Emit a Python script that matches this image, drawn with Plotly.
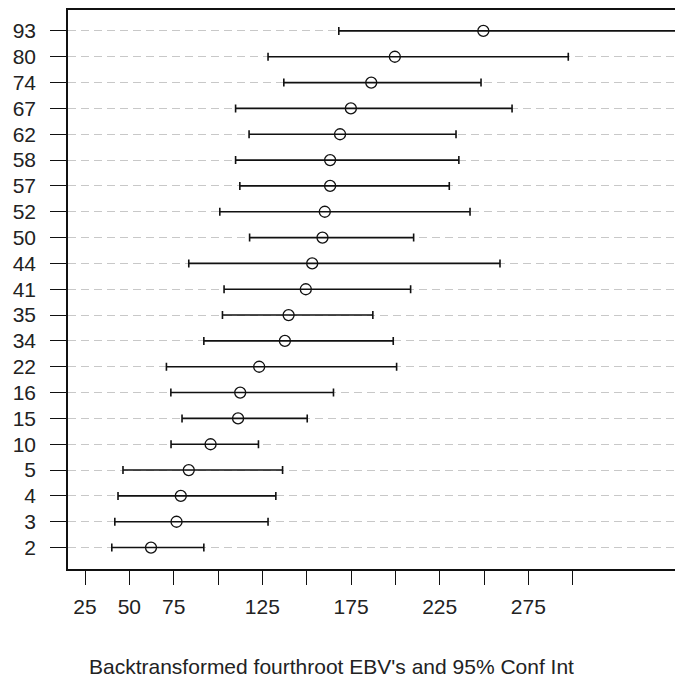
import plotly.graph_objects as go

labels = ["2", "3", "4", "5", "10", "15", "16", "22", "34", "35", "41",
          "44", "50", "52", "57", "58", "62", "67", "74", "80", "93"]
estimate = [62.2, 76.6, 79.0, 83.5, 95.8, 111.3, 112.5, 123.2, 137.7, 139.8, 149.5,
            153.1, 158.9, 160.2, 163.2, 163.2, 168.8, 174.9, 186.4, 199.7, 249.6]
lower = [40.1, 41.8, 43.6, 46.4, 73.5, 79.7, 73.4, 70.9, 92.0, 102.5, 103.4,
         83.5, 117.8, 101.0, 112.3, 109.9, 117.5, 109.9, 137.1, 128.2, 168.1]
upper = [92.0, 128.2, 132.6, 136.4, 122.8, 150.3, 165.1, 200.7, 198.8, 187.3, 208.6,
         259.0, 210.3, 242.1, 230.4, 235.8, 234.2, 265.8, 248.3, 297.5, 358.3]

x_tickvals = [25, 50, 75, 100, 125, 150, 175, 200, 225, 250, 275, 300]
x_ticktext = ["25", "50", "75", "", "125", "", "175", "", "225", "", "275", ""]
x_title = "Backtransformed fourthroot EBV's and 95% Conf Int"

ypos = list(range(1, len(labels) + 1))
plus = [u - e for u, e in zip(upper, estimate)]
minus = [e - l for e, l in zip(estimate, lower)]

fig = go.Figure()
fig.add_trace(go.Scatter(
    x=estimate, y=ypos, mode="markers",
    marker=dict(symbol="circle-open", size=11, color="#111111",
                line=dict(width=1.3, color="#111111")),
    error_x=dict(type="data", array=plus, arrayminus=minus, symmetric=False,
                 color="#111111", thickness=1.6, width=4),
    showlegend=False, hoverinfo="skip",
))

font = dict(family="Liberation Sans, Arial, sans-serif", size=21, color="#222222")

fig.update_layout(
    width=683, height=684,
    margin=dict(l=60, r=0, t=0, b=123),
    paper_bgcolor="white", plot_bgcolor="white",
    font=font,
    xaxis=dict(range=[15.4, 366.7], tickvals=x_tickvals, ticktext=x_ticktext,
               showgrid=False, zeroline=False, showline=True, mirror=True,
               linecolor="#111111", linewidth=1.5,
               ticks="outside", ticklen=14, tickwidth=1.3, tickcolor="#111111",
               ticklabelstandoff=4, tickfont=font),
    yaxis=dict(range=[0.17, 21.81], tickvals=ypos, ticktext=labels,
               showgrid=True, gridcolor="#c8c8c8", gridwidth=1, griddash="8px,5px",
               zeroline=False, showline=True, mirror=False,
               linecolor="#111111", linewidth=1.5,
               ticks="outside", ticklen=16, tickwidth=1.3, tickcolor="#111111",
               ticklabelstandoff=10, tickfont=font),
    annotations=[dict(text=x_title, xref="paper", yref="paper",
                      x=0.423, y=-0.174, xanchor="center", yanchor="middle",
                      showarrow=False, font=font)],
)

fig.write_html("out.html")
